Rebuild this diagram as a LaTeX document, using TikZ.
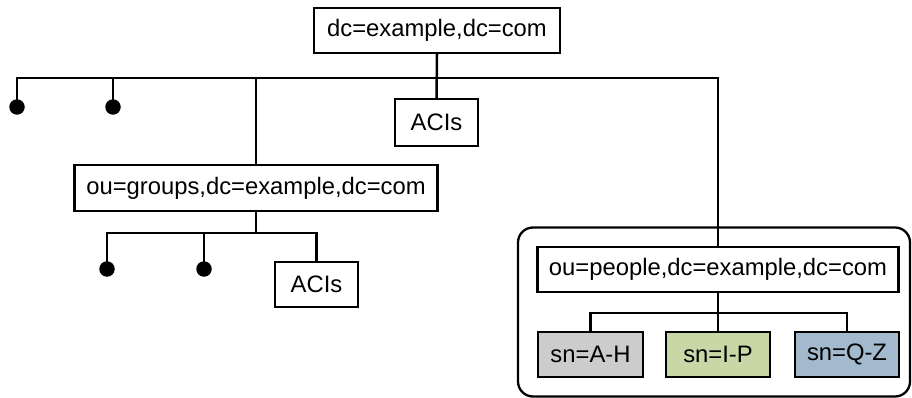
\documentclass[tikz,border=0pt]{standalone}
\usepackage{fontspec}
\setmainfont{Liberation Sans}
\definecolor{snGray}{RGB}{204,204,204}
\definecolor{snGreen}{RGB}{199,216,166}
\definecolor{snBlue}{RGB}{163,185,206}
\begin{document}
\begin{tikzpicture}[x=1pt,y=-1pt, line width=2.5pt,
  box/.style={draw, line width=2.3pt, inner sep=0pt, minimum height=45pt, font=\fontsize{23.8}{28}\selectfont},
  ball/.style={circle, fill, inner sep=0pt, minimum size=15.5pt},
  grpframe/.style={draw, rounded corners=15pt, line width=2.3pt, inner sep=0pt}]
\useasboundingbox (0,0) rectangle (912,398);
% group frame
\node[grpframe, minimum width=392pt, minimum height=169pt] (frame) at (714,312) {};
% nodes
\node[box, minimum width=246pt] (top) at (437,30.5) {dc=example,dc=com};
\node[box, minimum width=83pt, minimum height=47pt] (acis1) at (436.5,122.5) {ACIs};
\node[box, minimum width=363pt, minimum height=46pt] (groups) at (256,188) {ou=groups,dc=example,dc=com};
\node[ball] (b1) at (17,107) {};
\node[ball] (b2) at (113,107) {};
\node[ball] (b3) at (107,269) {};
\node[ball] (b4) at (204,269) {};
\node[box, minimum width=83pt] (acis2) at (316.5,284.5) {ACIs};
\node[box, fill=white, minimum width=361pt] (people) at (718,269.5) {ou=people,dc=example,dc=com};
\node[box, fill=snGray, minimum width=105pt] (ah) at (590.5,354.5) {sn=A-H};
\node[box, fill=snGreen, minimum width=104pt] (ip) at (718,354.5) {sn=I-P};
\node[box, fill=snBlue, minimum width=104pt] (qz) at (847,354.5) {sn=Q-Z};
% junction coordinates
\coordinate (t) at (437,78);
\coordinate (g) at (256,233);
\coordinate (p) at (718,313);
% connectors
\draw (top.south) -- (acis1.north);
\draw (b1.center) |- (people.north |- t) -- (people.north);
\draw (b2.center) -- (b2 |- t);
\draw (groups.north) -- (groups.north |- t);
\draw (b3.center) |- (acis2.north |- g) -- (acis2.north);
\draw (b4.center) -- (b4 |- g);
\draw (groups.south) -- (groups.south |- g);
\draw (ah.north) |- (qz.north |- p) -- (qz.north);
\draw (ip.north) -- (people.south);
\end{tikzpicture}
\end{document}
